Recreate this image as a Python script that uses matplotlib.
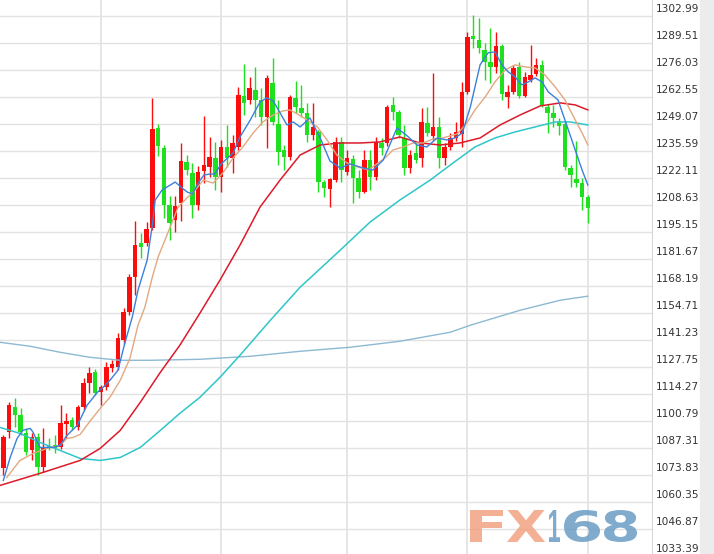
import matplotlib
matplotlib.use("Agg")
import matplotlib.pyplot as plt
from matplotlib.transforms import blended_transform_factory, offset_copy, Affine2D
from matplotlib.textpath import TextPath
from matplotlib.patches import PathPatch
from matplotlib.font_manager import FontProperties

# daily candles, left to right
opens = [1077.1, 1095.1, 1107.6, 1103.6, 1094.6, 1086.1, 1092.6, 1077.6, 1088.1, 1088.6,
         1087.6, 1099.1, 1101.1, 1097.6, 1107.6, 1119.6, 1125.1, 1115.1, 1117.6, 1127.1,
         1127.6, 1141.1, 1155.1, 1172.6, 1189.6, 1189.6, 1197.1, 1247.1, 1237.1, 1208.6,
         1201.1, 1209.6, 1230.1, 1224.6, 1208.6, 1225.6, 1227.6, 1232.1, 1222.6, 1237.6,
         1232.1, 1237.6, 1263.1, 1261.1, 1266.1, 1261.1, 1252.6, 1269.6, 1249.1, 1236.1,
         1232.6, 1262.1, 1257.1, 1254.6, 1243.6, 1245.1, 1220.1, 1216.6, 1221.1, 1240.1,
         1225.1, 1231.6, 1222.1, 1215.1, 1231.1, 1222.6, 1239.6, 1239.6, 1258.6, 1255.1,
         1242.1, 1227.1, 1234.6, 1232.1, 1249.6, 1243.1, 1247.6, 1232.1, 1237.6, 1242.1,
         1244.1, 1265.1, 1293.1, 1291.1, 1286.1, 1280.1, 1277.6, 1288.1, 1262.6, 1265.1,
         1277.6, 1263.1, 1271.1, 1274.1, 1278.6, 1257.6, 1254.6, 1250.1, 1249.1, 1227.1,
         1221.6, 1219.6, 1212.6]
highs = [1093.6, 1110.1, 1112.1, 1107.1, 1097.1, 1094.6, 1094.6, 1097.1, 1092.1, 1093.6,
         1108.6, 1104.6, 1102.6, 1108.6, 1122.1, 1127.6, 1126.6, 1118.6, 1130.1, 1131.1,
         1144.6, 1157.1, 1174.1, 1200.6, 1194.6, 1200.1, 1262.1, 1249.1, 1238.6, 1213.1,
         1213.1, 1239.6, 1233.6, 1229.6, 1228.1, 1253.1, 1242.6, 1240.1, 1241.1, 1248.6,
         1243.6, 1267.6, 1279.1, 1272.6, 1277.6, 1267.1, 1273.6, 1282.1, 1261.1, 1238.6,
         1263.6, 1270.6, 1268.6, 1259.6, 1259.6, 1246.1, 1221.1, 1222.1, 1242.6, 1242.6,
         1236.1, 1233.6, 1226.1, 1236.1, 1236.1, 1242.6, 1242.1, 1258.6, 1262.6, 1256.1,
         1248.6, 1236.1, 1239.6, 1257.1, 1257.6, 1274.6, 1252.6, 1239.6, 1244.6, 1250.1,
         1270.1, 1295.1, 1303.6, 1302.1, 1289.6, 1297.1, 1295.1, 1289.1, 1268.6, 1278.6,
         1280.1, 1275.1, 1288.6, 1282.1, 1281.1, 1259.1, 1258.6, 1252.1, 1250.1, 1228.6,
         1240.6, 1222.1, 1213.6]
lows = [1073.6, 1092.1, 1097.6, 1093.6, 1083.6, 1081.1, 1073.6, 1075.1, 1086.1, 1084.6,
        1086.6, 1092.1, 1096.1, 1096.1, 1106.1, 1114.6, 1113.6, 1108.6, 1116.1, 1125.1,
        1126.1, 1139.1, 1153.6, 1163.6, 1182.1, 1188.1, 1196.1, 1233.1, 1202.1, 1191.1,
        1195.1, 1200.6, 1223.6, 1202.1, 1206.1, 1219.6, 1222.6, 1216.1, 1215.1, 1227.6,
        1224.6, 1236.1, 1253.6, 1259.1, 1252.6, 1248.6, 1237.1, 1248.6, 1228.6, 1226.1,
        1231.1, 1254.6, 1252.6, 1240.1, 1241.1, 1215.1, 1212.6, 1207.6, 1220.1, 1220.1,
        1223.6, 1209.6, 1212.1, 1214.6, 1216.1, 1221.1, 1233.6, 1238.1, 1251.1, 1242.1,
        1223.6, 1224.6, 1229.6, 1227.6, 1243.1, 1241.1, 1227.1, 1228.6, 1236.1, 1240.6,
        1237.6, 1264.1, 1287.1, 1284.6, 1271.1, 1269.6, 1274.6, 1261.1, 1257.1, 1264.1,
        1262.1, 1262.6, 1270.1, 1273.1, 1257.6, 1244.6, 1247.6, 1243.6, 1226.1, 1217.6,
        1217.6, 1206.1, 1199.6]
closes = [1092.6, 1108.6, 1103.6, 1095.1, 1085.1, 1092.6, 1077.6, 1087.6, 1087.1, 1087.1,
          1099.6, 1100.6, 1097.6, 1107.6, 1119.6, 1124.6, 1114.6, 1117.6, 1127.6, 1129.1,
          1142.1, 1155.1, 1172.6, 1188.6, 1187.6, 1196.6, 1246.6, 1238.1, 1208.6, 1199.6,
          1208.1, 1230.6, 1226.1, 1208.6, 1225.1, 1228.6, 1232.6, 1222.6, 1237.6, 1232.1,
          1239.6, 1263.6, 1259.6, 1267.1, 1261.1, 1252.6, 1272.1, 1250.1, 1235.1, 1232.6,
          1262.6, 1257.6, 1254.6, 1243.6, 1247.6, 1220.1, 1217.1, 1221.6, 1240.1, 1226.1,
          1232.1, 1222.1, 1215.1, 1231.1, 1222.6, 1240.1, 1237.1, 1257.6, 1255.1, 1243.6,
          1227.1, 1233.6, 1231.1, 1250.1, 1244.6, 1247.6, 1232.1, 1237.6, 1242.1, 1245.1,
          1265.1, 1292.6, 1291.6, 1287.1, 1280.1, 1277.6, 1288.1, 1264.1, 1265.1, 1277.1,
          1263.1, 1272.6, 1273.6, 1278.6, 1258.6, 1254.6, 1252.1, 1248.1, 1227.6, 1223.6,
          1219.6, 1212.6, 1207.1]

# moving averages (x = candle index)
ma5_x = [0.0, 1.2, 2.4, 3.4, 4.7, 5.2, 6.4, 7.6, 8.7, 9.9, 11.1, 12.9, 14.6, 16.4, 17.4,
         18.6, 20.0, 21.2, 22.5, 23.5, 25.1, 26.0, 26.5, 27.7, 30.0, 31.2, 32.1, 33.0, 34.0,
         35.0, 36.1, 36.9, 38.0, 40.1, 41.3, 43.1, 44.8, 46.0, 47.1, 48.3, 49.5, 50.6, 51.8,
         53.5, 55.3, 57.0, 58.8, 60.5, 62.8, 64.5, 66.3, 68.7, 70.5, 72.2, 73.9, 75.7, 77.4,
         78.8, 80.1, 81.5, 83.2, 84.6, 85.8, 87.0, 88.1, 89.3, 90.5, 91.6, 92.8, 94.0, 95.1,
         96.8, 98.6, 99.8, 101.0, 102.0]
ma5_y = [1071.1, 1082.6, 1092.1, 1096.1, 1097.1, 1095.1, 1087.6, 1087.6, 1087.6, 1088.6,
         1093.6, 1098.6, 1108.6, 1115.1, 1117.6, 1121.1, 1126.1, 1139.6, 1152.6, 1166.1,
         1181.1, 1198.6, 1211.1, 1216.1, 1220.1, 1217.1, 1215.1, 1214.1, 1219.6, 1223.6,
         1224.1, 1224.1, 1229.1, 1234.6, 1242.6, 1251.1, 1260.1, 1262.1, 1260.6, 1254.6,
         1248.6, 1250.1, 1247.6, 1252.1, 1242.1, 1230.6, 1227.1, 1229.1, 1227.1, 1226.1,
         1231.1, 1247.1, 1243.1, 1238.6, 1237.6, 1242.1, 1241.1, 1242.1, 1244.6, 1257.6,
         1278.6, 1284.6, 1285.1, 1278.6, 1275.1, 1272.6, 1268.6, 1270.1, 1272.1, 1270.1,
         1265.1, 1261.1, 1246.1, 1236.1, 1226.1, 1218.6]

ma10_x = [0.6, 2.9, 5.2, 7.6, 9.9, 11.1, 12.2, 13.4, 15.1, 16.9, 18.6, 20.4, 22.1, 23.5,
          24.7, 26.0, 27.0, 28.2, 29.4, 30.5, 32.2, 33.5, 34.9, 36.6, 38.3, 40.1, 41.8, 43.6,
          45.3, 47.1, 48.8, 50.0, 51.3, 53.0, 54.8, 56.5, 58.2, 60.0, 61.9, 63.7, 65.4, 66.6,
          68.0, 69.8, 71.5, 73.3, 75.0, 76.7, 79.2, 80.9, 82.3, 84.1, 85.8, 87.6, 89.3, 91.0,
          92.8, 94.5, 96.3, 98.0, 99.8, 101.0, 102.0]
ma10_y = [1072.6, 1081.1, 1084.6, 1087.1, 1088.6, 1092.1, 1092.6, 1094.1, 1100.6, 1107.1,
          1112.6, 1121.1, 1132.1, 1148.6, 1157.6, 1172.6, 1182.6, 1191.1, 1199.6, 1207.6,
          1212.6, 1216.1, 1221.1, 1219.6, 1224.6, 1232.1, 1237.6, 1244.6, 1250.1, 1253.6,
          1255.6, 1256.1, 1254.1, 1251.1, 1247.6, 1241.1, 1233.6, 1229.6, 1227.6, 1226.1,
          1229.6, 1232.1, 1236.1, 1237.6, 1239.6, 1239.6, 1241.6, 1242.1, 1244.1, 1249.6,
          1256.1, 1262.6, 1270.1, 1276.1, 1278.6, 1277.6, 1277.1, 1273.6, 1267.6, 1261.1,
          1251.1, 1244.6, 1238.6]

ma20_x = [-0.6, 6.9, 13.4, 16.9, 20.4, 23.9, 27.4, 30.8, 34.3, 37.8, 41.3, 44.8, 48.3, 51.8,
          55.3, 58.8, 62.3, 65.7, 69.2, 72.7, 76.2, 79.7, 83.2, 86.7, 90.2, 93.7, 97.2, 99.8,
          102.0]
ma20_y = [1068.6, 1075.1, 1081.1, 1087.1, 1096.1, 1110.1, 1125.1, 1138.6, 1154.6, 1171.1,
          1188.6, 1207.6, 1221.1, 1233.6, 1238.6, 1239.6, 1239.6, 1240.1, 1242.6, 1239.6,
          1238.6, 1239.6, 1242.1, 1248.6, 1253.6, 1258.1, 1259.6, 1258.6, 1256.1]

ma60_x = [-0.6, 2.9, 6.4, 9.9, 13.4, 16.9, 20.4, 23.9, 27.4, 30.8, 34.3, 37.8, 41.3, 46.6,
          51.8, 58.8, 64.0, 69.2, 74.5, 78.0, 82.3, 85.8, 89.3, 92.8, 96.3, 98.9, 102.0]
ma60_y = [1097.6, 1094.6, 1090.1, 1086.1, 1082.1, 1081.1, 1082.6, 1087.6, 1096.1, 1104.6,
          1112.6, 1122.6, 1133.6, 1151.1, 1167.6, 1186.1, 1200.1, 1211.1, 1221.1, 1228.6,
          1237.6, 1242.1, 1245.1, 1247.6, 1250.1, 1250.1, 1248.6]

ma200_x = [-0.6, 4.7, 9.9, 15.1, 20.4, 25.6, 34.3, 43.1, 51.8, 60.5, 69.2, 78.0, 81.5, 86.7,
           90.2, 93.7, 97.2, 102.0]
ma200_y = [1140.1, 1138.1, 1135.1, 1132.6, 1131.1, 1131.1, 1131.6, 1133.1, 1135.6, 1137.6,
           1140.6, 1145.1, 1148.6, 1153.1, 1156.1, 1158.6, 1161.1, 1163.1]

price_ticks = [1302.99, 1289.51, 1276.03, 1262.55, 1249.07, 1235.59, 1222.11, 1208.63,
               1195.15, 1181.67, 1168.19, 1154.71, 1141.23, 1127.75, 1114.27, 1100.79,
               1087.31, 1073.83, 1060.35, 1046.87, 1033.39]
month_lines = [17, 38, 60, 81, 102]

UP = "#fb0d0d"
DOWN = "#1ee01e"

fig = plt.figure(figsize=(7.14, 5.54), dpi=100)
ax = fig.add_axes([0, 0, 652 / 714, 1])
ax.set_xlim(-0.58, 113.2)
ax.set_ylim(1034.39, 1310.98)

for v in price_ticks:
    ax.axhline(v, color="#e2e2e2", lw=1.0, zorder=0)
for m in month_lines:
    ax.axvline(m, color="#e2e2e2", lw=1.2, zorder=0)

n = len(opens)
idx = list(range(n))
cols = [UP if c >= o else DOWN for o, c in zip(opens, closes)]
ax.vlines(idx, lows, highs, colors=cols, lw=1.0, zorder=2)
bottoms = [min(o, c) for o, c in zip(opens, closes)]
heights = [max(abs(c - o), 0.8) for o, c in zip(opens, closes)]
ax.bar(idx, heights, bottom=bottoms, width=0.78, color=cols, lw=0, zorder=3)

ax.plot(ma200_x, ma200_y, color="#8db9d2", lw=1.0, zorder=4)
ax.plot(ma60_x, ma60_y, color="#2fc6c8", lw=1.1, zorder=4)
ax.plot(ma20_x, ma20_y, color="#dd1a2a", lw=1.1, zorder=4)
ax.plot(ma10_x, ma10_y, color="#e2a880", lw=1.0, zorder=4)
ax.plot(ma5_x, ma5_y, color="#3b80dc", lw=1.0, zorder=5)

ax.set_xticks([])
ax.set_yticks([])
for s in ["top", "left", "bottom"]:
    ax.spines[s].set_visible(False)
ax.spines["right"].set_color("#d8d8d8")

# price labels on the right, sitting just above their grid line
blend = blended_transform_factory(ax.transAxes, ax.transData)
lab_tr = offset_copy(blend, fig=fig, x=4, y=4, units="dots")
for v in price_ticks:
    ax.text(1.0, v, f"{v:.2f}", transform=lab_tr, fontsize=7.6, color="#333333",
            va="baseline", ha="left", clip_on=False)

# grey strip on the far right
fig.patches.append(plt.Rectangle((700 / 714, 0), 14 / 714, 1, transform=fig.transFigure,
                                 color="#ececec", zorder=0))

# watermark, wide block letters (pixel boxes)
fp = FontProperties(family="DejaVu Sans", weight="bold")
fp_one = FontProperties(family="Liberation Sans", weight="bold")


def stamp(ch, x0, x1, color, prop=fp):
    tp = TextPath((0, 0), ch, size=44, prop=prop)
    ext = tp.get_extents()
    tr = (Affine2D().translate(-ext.x0, -ext.y0)
          .scale((x1 - x0) / ext.width, 32 / ext.height)
          .translate(x0, 554 - 542))
    fig.add_artist(PathPatch(tp, transform=tr, facecolor=color, lw=0, alpha=0.85))


stamp("F", 470, 503, "#f2a283")
stamp("X", 507, 545, "#f2a283")
stamp("1", 549, 560, "#6a9cc4", fp_one)
stamp("6", 564, 600, "#6a9cc4")
stamp("8", 604, 637, "#6a9cc4")

fig.savefig("out.png", dpi=100)
